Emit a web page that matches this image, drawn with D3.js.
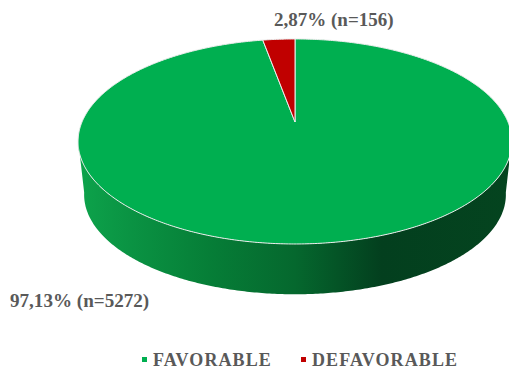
<!DOCTYPE html>
<html><head><meta charset="utf-8">
<style>html,body{margin:0;padding:0;background:#fff}svg{display:block}
text{font-family:"Liberation Serif",serif;font-weight:bold;fill:#595959}</style>
<script src="https://cdnjs.cloudflare.com/ajax/libs/d3/7.8.5/d3.min.js"></script>
</head><body><svg id="c" width="509" height="370"></svg>
<script>
const categories = ["FAVORABLE", "DEFAVORABLE"];
const values = [5272, 156];
const percentLabels = ["97,13%", "2,87%"];
const colors = ["#00AF50", "#C00000"];

const svg = d3.select("#c");
const cx = 295, apexY = 122, k = 0.19, A = 213, B = 98.8;
// perspective projection of the pie's unit circle
function project(angle, r = 1, scale = 1, dy = 0) {
  const u = r * Math.sin(angle), v = -r * Math.cos(angle);
  const d = 1 - k * v;
  return [cx + scale * A * u / d, apexY + dy + scale * B * v / d];
}
const pie = d3.pie().value(d => d).sort(null);
const arcs = pie(values);
const line = d3.line();
const rim = (a0, a1, scale = 1, dy = 0) => {
  const n = Math.max(2, Math.ceil(Math.abs(a1 - a0) / 0.01));
  return d3.range(n + 1).map(i => project(a0 + (a1 - a0) * i / n, 1, scale, dy));
};

const defs = svg.append("defs");
const grad = defs.append("linearGradient").attr("id", "wall")
  .attr("gradientUnits", "userSpaceOnUse").attr("x1", 78).attr("x2", 512).attr("y1", 0).attr("y2", 0);
[[0, "#0DA34B"], [0.12, "#0A9343"], [0.3, "#067E37"], [0.5, "#05682E"], [0.7, "#033F1E"], [1, "#04441F"]]
  .forEach(([o, c]) => grad.append("stop").attr("offset", o).attr("stop-color", c));

// side wall: front half of the rim, from the right tangent to the left tangent
const aR = Math.acos(-k), aL = 2 * Math.PI - aR;
const topFront = rim(aR - 0.02, aL + 0.02);
const botBack = rim(aL + 0.02, aR - 0.02, 0.972, 53.7);
svg.append("path").attr("d", line(topFront.concat(botBack)) + "Z").attr("fill", "url(#wall)");

// top face slices
arcs.forEach((d, i) => {
  const pts = [project(0, 0)].concat(rim(d.startAngle, d.endAngle));
  svg.append("path").attr("d", line(pts) + "Z")
    .attr("fill", colors[i]).attr("stroke", "#EDEDED").attr("stroke-width", 1).attr("stroke-linejoin", "round");
});

// labels
svg.append("text").attr("x", 274).attr("y", 26).attr("font-size", 19)
  .text(`${percentLabels[1]} (n=${values[1]})`);
svg.append("text").attr("x", 10).attr("y", 307).attr("font-size", 19.1)
  .text(`${percentLabels[0]} (n=${values[0]})`);

// legend
const legendX = [142, 301];
categories.forEach((c, i) => {
  svg.append("rect").attr("x", legendX[i]).attr("y", 357).attr("width", 5).attr("height", 5).attr("fill", colors[i]);
  svg.append("text").attr("x", legendX[i] + 11).attr("y", 366).attr("font-size", 18)
    .attr("letter-spacing", 1.1).text(c);
});
</script></body></html>
